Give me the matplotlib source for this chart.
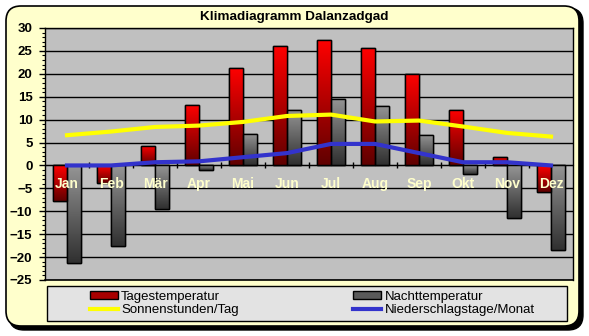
import matplotlib
matplotlib.use('Agg')
import matplotlib.pyplot as plt
import numpy as np
from matplotlib.colors import LinearSegmentedColormap
from matplotlib.patches import FancyBboxPatch, Rectangle, Patch
from matplotlib.lines import Line2D

plt.rcParams['font.family'] = ['Liberation Sans', 'DejaVu Sans']

monate = ['Jan', 'Feb', 'Mär', 'Apr', 'Mai', 'Jun', 'Jul', 'Aug', 'Sep', 'Okt', 'Nov', 'Dez']
tag_temp = [-7.8, -3.9, 4.3, 13.3, 21.3, 26.1, 27.4, 25.7, 20.0, 12.2, 1.9, -5.8]
nacht_temp = [-21.3, -17.5, -9.5, -0.9, 6.9, 12.2, 14.6, 13.0, 6.7, -1.8, -11.4, -18.4]
sonne = [6.6, 7.4, 8.4, 8.7, 9.5, 10.8, 11.1, 9.6, 9.8, 8.5, 7.1, 6.3]
regen = [0, 0, 0.7, 0.9, 1.8, 2.7, 4.7, 4.7, 2.7, 0.7, 0.7, 0]

W, H = 589, 336
fig = plt.figure(figsize=(W / 100, H / 100), dpi=100)
fig.patch.set_facecolor('white')

# rahmen mit schatten (in zoll)
shadow = FancyBboxPatch((9 / 100, (H - 330) / 100), 574 / 100, 322 / 100,
                        boxstyle='round,pad=0,rounding_size=0.15',
                        transform=fig.dpi_scale_trans, facecolor='black',
                        edgecolor='black', zorder=0)
frame = FancyBboxPatch((6 / 100, (H - 326) / 100), 573 / 100, 320 / 100,
                       boxstyle='round,pad=0,rounding_size=0.15',
                       transform=fig.dpi_scale_trans, facecolor='#FFFFCC',
                       edgecolor='black', lw=1.2, zorder=1)
fig.patches.extend([shadow, frame])

fig.text(294.5 / W, 1 - 17 / H, 'Klimadiagramm Dalanzadgad', ha='center', va='center',
         fontsize=9.7, fontweight='bold')

ax = fig.add_axes([45 / W, 1 - 280 / H, 528 / W, 252 / H])
ax.set_facecolor('#C0C0C0')
ax.set_zorder(2)

x = np.arange(len(monate))
bw = 0.32
rot = LinearSegmentedColormap.from_list('rot', ['#FF0000', '#600000'])
grau = LinearSegmentedColormap.from_list('grau', ['#959595', '#303030'])

bars1 = ax.bar(x - bw / 2, tag_temp, bw, color='#C00000', edgecolor='black', lw=1, zorder=2)
bars2 = ax.bar(x + bw / 2, nacht_temp, bw, color='#666666', edgecolor='black', lw=1, zorder=2)

# farbverlauf in den balken
grad = np.linspace(0, 1, 100).reshape(-1, 1)
for bars, cm in [(bars1, rot), (bars2, grau)]:
    for b in bars:
        x0, y0 = b.get_x(), b.get_y()
        w, h = b.get_width(), b.get_height()
        lo, hi = min(y0, y0 + h), max(y0, y0 + h)
        im = ax.imshow(grad, cmap=cm, extent=(x0, x0 + w, lo, hi), origin='upper',
                       aspect='auto', zorder=2.1, interpolation='bilinear')
        im.set_clip_path(b)
        ax.add_patch(Rectangle((x0, y0), w, h, fill=False, edgecolor='black', lw=1, zorder=2.2))

ax.plot(x, sonne, color='#FFFF00', lw=3, zorder=3)
ax.plot(x, regen, color='#3333CC', lw=3, zorder=3)

for i, m in enumerate(monate):
    ax.text(i, -4.1, m, ha='center', va='center', color='#FFFFCC', fontsize=10,
            fontweight='bold', zorder=5)

ax.set_xlim(-0.5, 11.5)
ax.set_ylim(-25, 30)
ax.set_yticks(np.arange(-25, 31, 5))
ax.set_yticks(np.arange(-25, 31, 1), minor=True)
ax.tick_params(axis='y', which='major', length=4, width=1, pad=5, labelsize=9.5)
ax.tick_params(axis='y', which='minor', length=2.2, width=0.8)
for lab in ax.get_yticklabels():
    lab.set_fontweight('bold')
ax.yaxis.grid(True, color='black', lw=1)
ax.axhline(-25, color='black', lw=1.2, clip_on=False, zorder=2.5)
ax.set_axisbelow(True)

ax.spines['bottom'].set_position(('data', 0))
ax.spines['bottom'].set_zorder(2.5)
ax.set_xticks(np.arange(0.5, 11, 1))
ax.set_xticklabels([])
ax.tick_params(axis='x', direction='inout', length=4.5, width=1)
for s in ['left', 'right', 'top']:
    ax.spines[s].set_linewidth(1)

# legende
box = Rectangle((47 / W, 1 - 321 / H), 520 / W, 35 / H, transform=fig.transFigure,
                facecolor='#E3E3E3', edgecolor='black', lw=1, zorder=2)
fig.patches.append(box)
handles = [Patch(facecolor='#A80000', edgecolor='black'),
           Line2D([], [], color='#FFFF00', lw=3),
           Patch(facecolor='#5A5A5A', edgecolor='black'),
           Line2D([], [], color='#3333CC', lw=3)]
labels = ['Tagestemperatur', 'Sonnenstunden/Tag', 'Nachttemperatur', 'Niederschlagstage/Monat']
leg = fig.legend(handles, labels, loc='center left', bbox_to_anchor=(90 / W, 1 - 303.3 / H),
                 ncol=2, frameon=False, fontsize=9.5, handlelength=2.1, handleheight=0.55,
                 handletextpad=0.25, columnspacing=8.7, labelspacing=0.12, borderpad=0,
                 borderaxespad=0)
leg.set_zorder(3)

plt.savefig('out.png', dpi=100)
